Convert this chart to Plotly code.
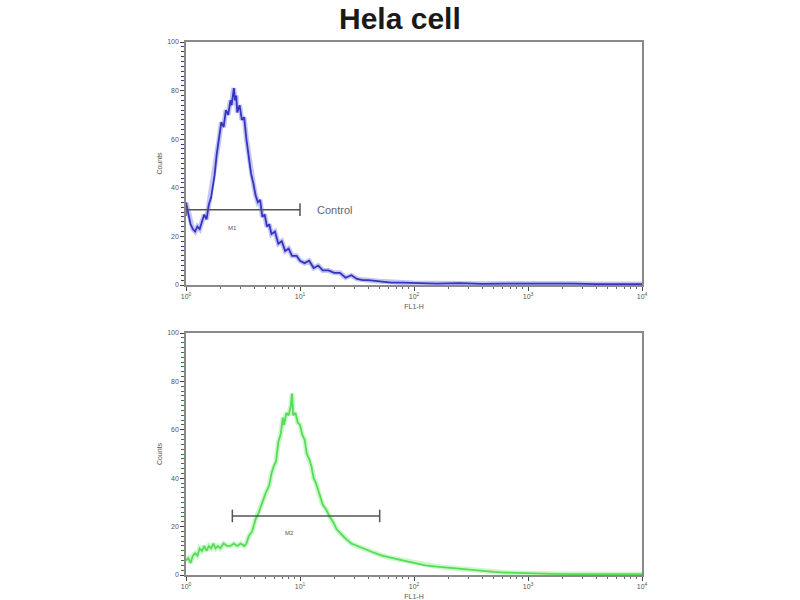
import numpy as np
import plotly.graph_objects as go

# ---------------- data ----------------
# FL1-H position in decades (log10), counts
ctrl_decade = [0.00,0.02,0.04,0.06,0.08,0.10,0.12,0.14,0.16,0.18,0.20,0.22,0.25,0.27,0.29,0.31,0.33,0.35,0.37,0.39,
               0.40,0.41,0.42,0.43,0.44,0.45,0.47,0.49,0.51,0.53,0.55,0.57,0.59,0.61,0.63,0.65,0.67,0.69,0.71,0.73,
               0.75,0.78,0.81,0.84,0.87,0.90,0.93,0.97,1.00,1.04,1.08,1.12,1.16,1.20,1.25,1.30,1.35,1.40,1.45,1.50,
               1.55,1.60,1.70,1.80,1.90,2.00,2.20,2.40,2.60,2.80,3.00,3.20,3.40,3.60,3.80,4.00]
ctrl_counts = [34,30,25,23,22,24,23,26,29,27,33,36,45,54,60,67,65,72,70,76,
               74,79,81,76,78,71,74,68,69,60,53,46,42,37,34,35,28,29,24,25,
               21,22,17,18,14,15,12,12,10,9,10,7,8,6,6,5,5,3,4,2.5,
               2,2,1.5,1,1,0.8,0.6,0.8,0.5,0.6,0.7,0.5,0.6,0.4,0.5,0.4]

samp_decade = [0.00,0.02,0.04,0.06,0.08,0.10,0.12,0.14,0.16,0.18,0.20,0.22,0.24,0.26,0.28,0.30,0.33,0.36,0.39,0.42,
               0.45,0.48,0.51,0.53,0.55,0.58,0.61,0.64,0.67,0.70,0.73,0.75,0.77,0.79,0.81,0.83,0.85,0.86,0.88,0.90,
               0.92,0.93,0.94,0.96,0.98,1.00,1.02,1.04,1.06,1.08,1.10,1.12,1.14,1.17,1.20,1.23,1.26,1.29,1.32,1.36,
               1.40,1.45,1.50,1.55,1.60,1.66,1.72,1.80,1.90,2.00,2.10,2.20,2.30,2.40,2.50,2.60,2.70,2.80,2.90,3.00,
               3.20,3.40,3.60,3.80,4.00]
samp_counts = [6,7,5,8,9,8,11,10,12,10,12,11,13,11,12,11,13,12,12,13,
               12,13,12,13,16,18,23,26,30,34,37,42,45,47,55,58,65,62,67,66,
               70,75,66,67,63,62,58,56,50,48,45,40,38,33,29,27,24,22,19,17,
               15,13,12,11,10,9,8,7,6,5,4,3.5,3,2.5,2,1.6,1.3,1.0,0.8,0.6,
               0.5,0.4,0.4,0.3,0.3]

# marker gates: (start FL1-H, end FL1-H, count level)
m1_gate = [1.0, 10.0, 31]
m2_gate = [2.55, 50.0, 24.4]

y_ticks = [0, 20, 40, 60, 80, 100]
x_decades = [0, 1, 2, 3, 4]
x_tick_text = ["10<sup>0</sup>", "10<sup>1</sup>", "10<sup>2</sup>", "10<sup>3</sup>", "10<sup>4</sup>"]

# ---------------- figure ----------------
fig = go.Figure()

blue = "#3434c0"
green = "#55dd55"
gate_col = "#555555"

def add_hist(xdec, counts, color, glow, xa, ya):
    xs = np.power(10.0, np.array(xdec))
    fig.add_trace(go.Scatter(x=xs, y=counts, mode="lines", xaxis=xa, yaxis=ya,
                             line=dict(color=glow, width=5), hoverinfo="skip", showlegend=False))
    fig.add_trace(go.Scatter(x=xs, y=counts, mode="lines", xaxis=xa, yaxis=ya,
                             line=dict(color=color, width=1.8), showlegend=False))

def add_gate(gate, xa, ya):
    a, b, lvl = gate
    h = 2.6
    fig.add_trace(go.Scatter(x=[a, a, None, a, b, None, b, b],
                             y=[lvl - h, lvl + h, None, lvl, lvl, None, lvl - h, lvl + h],
                             mode="lines", xaxis=xa, yaxis=ya,
                             line=dict(color=gate_col, width=1.5), showlegend=False))

add_hist(ctrl_decade, ctrl_counts, blue, "rgba(90,90,220,0.35)", "x", "y")
add_hist(samp_decade, samp_counts, green, "rgba(110,230,110,0.35)", "x2", "y2")
add_gate(m1_gate, "x", "y")
add_gate(m2_gate, "x2", "y2")

minor_vals = [d * 10 ** k for k in range(4) for d in range(2, 10)]
xl = 186 / 800
xr = 642 / 800
lab_font = dict(size=7, color="#555", family="Liberation Sans")

xaxis_common = dict(
    type="log", range=[0, 4], showgrid=False, zeroline=False, automargin=False,
    showline=True, linecolor="#8a8a8a", linewidth=1.5, mirror=True,
    ticks="outside", ticklen=4, tickcolor="#444",
    tickvals=[10 ** d for d in x_decades], ticktext=x_tick_text,
    tickfont=lab_font,
    minor=dict(tickvals=minor_vals, ticks="outside", ticklen=2, tickcolor="#666"),
    title=dict(text="FL1-H", font=lab_font, standoff=5),
)

def yaxis_common(tickc):
    return dict(
        range=[0, 100], showgrid=False, zeroline=False, automargin=False,
        showline=True, linewidth=1.5, mirror=True, linecolor="#8a8a8a",
        ticks="outside", ticklen=4, tickcolor="#444",
        tickvals=y_ticks,
        tickfont=lab_font,
        minor=dict(dtick=2, ticks="outside", ticklen=3, tickcolor=tickc),
        title=dict(text="Counts", font=lab_font, standoff=4),
    )

fig.update_layout(
    width=800, height=600,
    margin=dict(l=0, r=0, t=0, b=0, autoexpand=False),
    paper_bgcolor="white", plot_bgcolor="white",
    showlegend=False,
    xaxis=dict(domain=[xl, xr], anchor="y", **xaxis_common),
    yaxis=dict(domain=[(600 - 285) / 600, (600 - 42) / 600], anchor="x", **yaxis_common("#3a3a8a")),
    xaxis2=dict(domain=[xl, xr], anchor="y2", **xaxis_common),
    yaxis2=dict(domain=[(600 - 575) / 600, (600 - 333) / 600], anchor="x2", **yaxis_common("#3a7a3a")),
    annotations=[
        dict(text="<b>Hela cell</b>", x=0.5, y=1 - 18 / 600, xref="paper", yref="paper",
             showarrow=False, xanchor="center", yanchor="middle",
             font=dict(size=30, color="#1a1a1a", family="Liberation Sans")),
        dict(text="Control", x=np.log10(m1_gate[1]) + 0.13, y=m1_gate[2], xref="x", yref="y",
             showarrow=False, xanchor="left", yanchor="middle",
             font=dict(size=11, color="#666", family="Liberation Sans")),
        dict(text="M1", x=0.41, y=23.5, xref="x", yref="y", showarrow=False,
             font=dict(size=6, color="#555", family="Liberation Sans")),
        dict(text="M2", x=0.91, y=17.4, xref="x2", yref="y2", showarrow=False,
             font=dict(size=6, color="#555", family="Liberation Sans")),
    ],
)

fig.write_html("out.html", config={"displayModeBar": False},
               post_script="document.body.style.margin='0';document.body.style.overflow='hidden';")
